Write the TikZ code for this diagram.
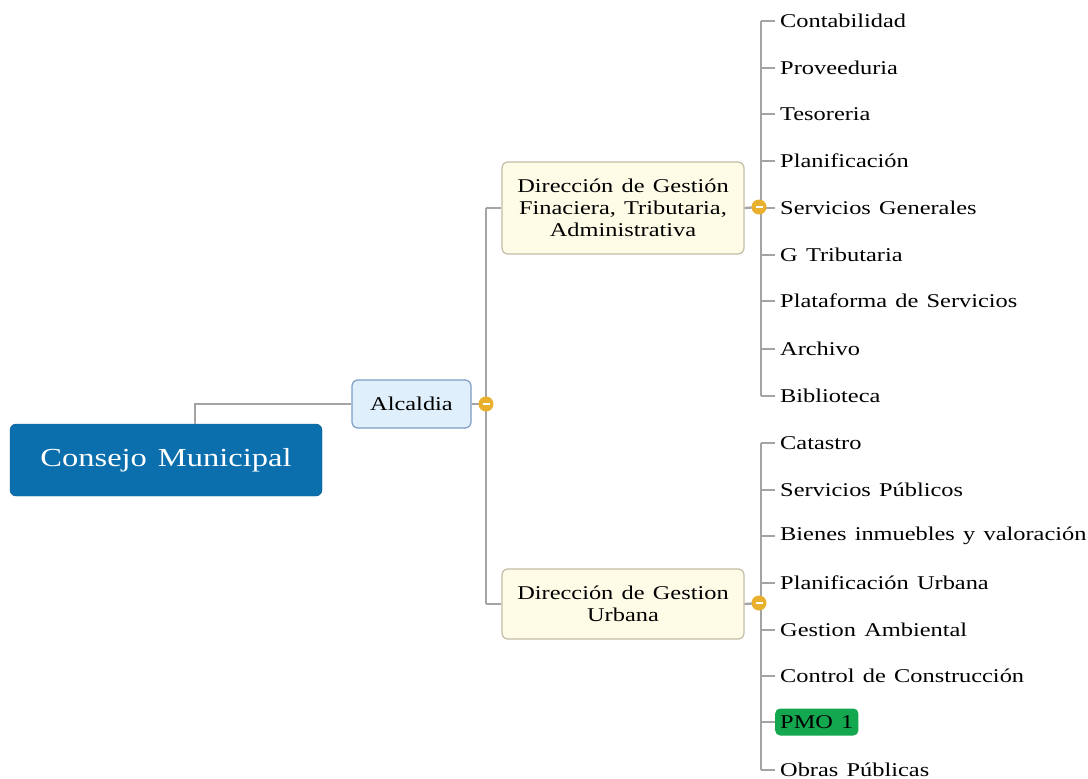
\documentclass[tikz,border=0pt]{standalone}
\usepackage{fontspec}
\setmainfont{Liberation Serif}[FakeStretch=1.25,WordSpace=1.35]
\definecolor{linegray}{HTML}{A4A4A4}
\definecolor{consejo}{HTML}{0B6FAE}
\definecolor{alcfill}{HTML}{DFF0FC}
\definecolor{alcdraw}{HTML}{7C9CC4}
\definecolor{dirfill}{HTML}{FEFCE7}
\definecolor{dirdraw}{HTML}{C2BCA4}
\definecolor{knob}{HTML}{E8B02C}
\definecolor{pmo}{HTML}{13A84F}
\tikzset{
  conn/.style={draw=linegray, line width=2.3pt},
  leaf/.style={anchor=west, inner sep=0pt, font=\fontsize{19.5}{22}\selectfont},
  dirbox/.style={draw=dirdraw, fill=dirfill, rounded corners=6pt, line width=1.2pt, minimum width=242pt, align=center, font=\fontsize{19.5}{22}\selectfont},
  knobstyle/.style={circle, fill=knob, minimum size=15pt, inner sep=0pt},
}
\newcommand{\knobat}[2]{%
  \node[knobstyle] (#1) at #2 {};
  \draw[white, line width=1.6pt] ([xshift=-3.5pt]#1.center) -- ([xshift=3.5pt]#1.center);
}
\begin{document}
\begin{tikzpicture}[x=1pt,y=-1pt]
\useasboundingbox (0,0) rectangle (1088,779);
% main nodes
\node[fill=consejo, draw=consejo!80!black, rounded corners=6pt, minimum width=312pt, minimum height=72pt, text=white, font=\fontsize{26}{28}\selectfont] (consejo) at (166,460) {Consejo Municipal};
\node[fill=alcfill, draw=alcdraw, line width=1.2pt, rounded corners=6pt, minimum width=119pt, minimum height=48pt, font=\fontsize{19.5}{22}\selectfont] (alc) at (411.5,404) {Alcaldia};
\node[dirbox, minimum height=92pt] (dir1) at (623,208) {Dirección de Gestión\\Finaciera, Tributaria,\\Administrativa};
\node[dirbox, minimum height=70pt] (dir2) at (623,604) {Dirección de Gestion\\Urbana};
% coordinates
\coordinate (ctop) at (195,424);
\coordinate (spineA) at (486,404);
\coordinate (spine1) at (761,207);
\coordinate (spine2) at (761,603);
% leaves group 1
\node[leaf] (l1) at (780,21) {Contabilidad};
\node[leaf] (l2) at (780,68) {Proveeduria};
\node[leaf] (l3) at (780,114) {Tesoreria};
\node[leaf] (l4) at (780,161) {Planificación};
\node[leaf] (l5) at (780,208) {Servicios Generales};
\node[leaf] (l6) at (780,255) {G Tributaria};
\node[leaf] (l7) at (780,301) {Plataforma de Servicios};
\node[leaf] (l8) at (780,349) {Archivo};
\node[leaf] (l9) at (780,396) {Biblioteca};
% leaves group 2
\node[leaf] (m1) at (780,443) {Catastro};
\node[leaf] (m2) at (780,490) {Servicios Públicos};
\node[leaf] (m3) at (780,536) {Bienes inmuebles y valoración};
\node[leaf] (m4) at (780,583) {Planificación Urbana};
\node[leaf] (m5) at (780,630) {Gestion Ambiental};
\node[leaf] (m6) at (780,676) {Control de Construcción};
\node[leaf, fill=pmo, rounded corners=5pt, inner xsep=5pt, minimum height=27pt] (m7) at (775,722) {PMO 1};
\node[leaf] (m8) at (780,770) {Obras Públicas};
% connectors
\draw[conn] (ctop) |- (alc.west);
\draw[conn] (alc.east) -- (spineA);
\draw[conn] (spineA |- dir1.west) -- (spineA |- dir2.west);
\draw[conn] (spineA |- dir1.west) -- (dir1.west);
\draw[conn] (spineA |- dir2.west) -- (dir2.west);
\draw[conn] (dir1.east) -- (spine1);
\draw[conn] (dir2.east) -- (spine2);
\draw[conn] (spine1 |- l1.west) -- (spine1 |- l9.west);
\draw[conn] (spine2 |- m1.west) -- (spine2 |- m8.west);
\foreach \n in {l1,l2,l3,l4,l5,l6,l7,l8,l9,m1,m2,m3,m4,m5,m6,m8}
  \draw[conn] (spine1 |- \n.west) -- ([xshift=-5pt]\n.west);
\draw[conn] (spine2 |- m7.west) -- (m7.west);
% knobs
\knobat{k0}{(486,404)}
\knobat{k1}{(759,207)}
\knobat{k2}{(759,603)}
\end{tikzpicture}
\end{document}
